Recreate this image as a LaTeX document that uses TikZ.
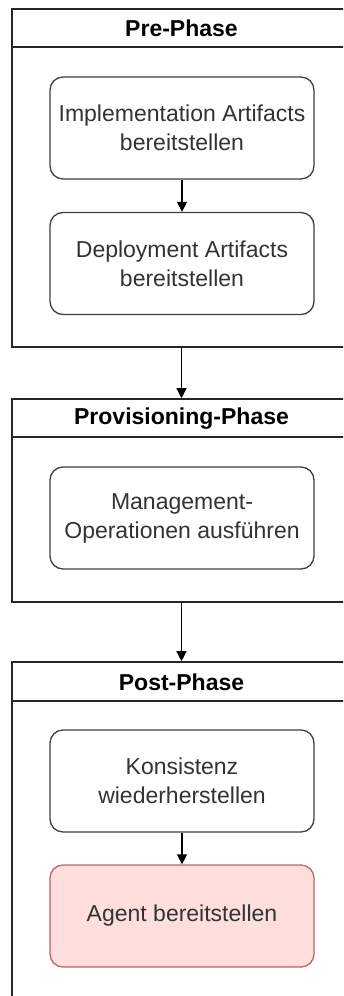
\documentclass[tikz,border=0pt]{standalone}
\usepackage{fontspec}
\setmainfont{Liberation Sans}
\usetikzlibrary{arrows.meta}
\definecolor{agentfill}{HTML}{FFDEDE}
\definecolor{agentline}{HTML}{C06464}
\definecolor{tasktext}{HTML}{333333}
\tikzset{
  lane/.style={draw=black!85, line width=1.6pt, fill=white, inner sep=0pt},
  lanerule/.style={draw=black!85, line width=1.6pt},
  head/.style={font=\fontsize{23}{28}\selectfont\bfseries, text=black, inner sep=0pt},
  task/.style={draw=black!75, line width=1.3pt, rounded corners=13pt, fill=white,
    minimum width=264pt, minimum height=102pt, align=center, text=tasktext,
    font=\fontsize{23}{29}\selectfont, inner sep=0pt},
  agenttask/.style={task, fill=agentfill, draw=agentline},
  flow/.style={-{Triangle[length=10pt,width=10pt]}, line width=1.3pt, draw=black}
}
\begin{document}
\begin{tikzpicture}[x=1pt, y=-1pt]
  \useasboundingbox (0,0) rectangle (343,996);
  \fill[white] (0,0) rectangle (343,996);
  \clip (0,0) rectangle (343,996);

  % phase containers (swimlanes)
  \node[lane, minimum width=339pt, minimum height=338pt] (pre) at (181.5,178) {};
  \node[lane, minimum width=339pt, minimum height=203pt] (prov) at (181.5,500.5) {};
  \node[lane, minimum width=339pt, minimum height=338pt] (post) at (181.5,831) {};

  \draw[lanerule] ([yshift=-39pt]pre.north west) -- ([yshift=-39pt]pre.north east);
  \draw[lanerule] ([yshift=-39pt]prov.north west) -- ([yshift=-39pt]prov.north east);
  \draw[lanerule] ([yshift=-40pt]post.north west) -- ([yshift=-40pt]post.north east);

  \node[head] (preh) at (181.5,28.5) {Pre-Phase};
  \node[head] (provh) at (181.5,418.5) {Provisioning-Phase};
  \node[head] (posth) at (181.5,682) {Post-Phase};

  % tasks
  \node[task] (impl) at (182,128) {Implementation Artifacts\\bereitstellen};
  \node[task] (depl) at (182,263.5) {Deployment Artifacts\\bereitstellen};
  \node[task] (mgmt) at (182,518) {Management-\\Operationen ausführen};
  \node[task] (kons) at (182,781) {Konsistenz\\wiederherstellen};
  \node[agenttask] (agent) at (182,916) {Agent bereitstellen};

  % flow
  \draw[flow] (impl) -- (depl);
  \draw[flow] (pre.south) -- (prov.north);
  \draw[flow] (prov.south) -- (post.north);
  \draw[flow] (kons) -- (agent);
\end{tikzpicture}
\end{document}
